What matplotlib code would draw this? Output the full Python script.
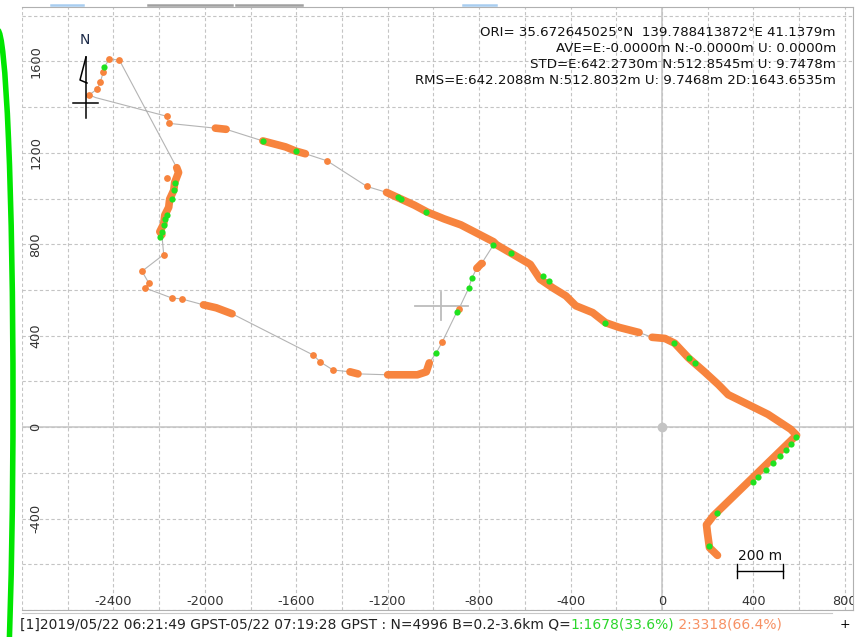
import numpy as np, matplotlib.pyplot as plt
from matplotlib.patches import Ellipse
from matplotlib.lines import Line2D

# track waypoints (E, N in metres from ORI)
track_e = [243, 208, 199, 195, 225, 589, 563, 464, 290, 247, 186, 117, 56, 13, -43, -100, -186, -247, -303, -377,
           -420, -477, -533, -576, -650, -724, -737, -880, -953, -1027, -1083, -1140, -1205, -1291, -1465, -1560, -1603, -1647, -1746, -1907,
           -1954, -2158, -2167, -2479, -2505, -2470, -2457, -2444, -2440, -2418, -2374, -2123, -2115, -2132, -2136, -2154, -2158, -2175, -2180, -2197,
           -2188, -2180, -2275, -2245, -2262, -2145, -2102, -2006, -1950, -1881, -1525, -1495, -1439, -1365, -1330, -1200, -1170, -1070, -1031, -1018,
           -988, -962, -897, -888, -845, -832, -810, -789, -750, -737, -737]
track_n = [-561, -527, -462, -427, -388, -35, -9, 56, 142, 186, 242, 302, 367, 388, 393, 414, 436, 457, 501, 531,
           574, 609, 647, 712, 755, 798, 811, 885, 911, 941, 971, 997, 1027, 1053, 1165, 1196, 1208, 1226, 1252, 1303,
           1308, 1329, 1360, 1442, 1454, 1480, 1511, 1554, 1575, 1610, 1606, 1135, 1114, 1070, 1036, 997, 962, 928, 889, 855,
           842, 755, 682, 630, 609, 565, 561, 535, 522, 496, 315, 285, 250, 242, 233, 229, 229, 229, 242, 281,
           324, 371, 505, 518, 609, 652, 695, 716, 777, 798, 811]
# dense float (Q=2) stretches as waypoint index ranges, and single float epochs
float_runs = [(0, 14), (15, 32), (35, 38), (39, 40), (51, 60), (67, 69), (73, 74), (75, 79), (86, 87)]
float_idx = [33, 34, 41, 42, 44, 45, 46, 47, 49, 50, 61, 62, 63, 64, 65, 66, 70, 71, 72, 81, 83, 86, 87]
float_extra_e, float_extra_n = [-2167], [1092]
# fix (Q=1) epochs
fix_e = [585, 563, 542, 516, 485, 455, 420, 399, 243, 208, 117, 143, 52, -247, -520, -494, -659, -737,
         -1031, -1140, -1157, -1603, -1746, -2440, -2132, -2136, -2145, -2167, -2175, -2180, -2188, -2197,
         -988, -897, -845, -832]
fix_n = [-43, -73, -99, -125, -155, -186, -220, -242, -375, -518, 302, 281, 367, 457, 660, 639, 760, 798,
         941, 997, 1006, 1208, 1252, 1575, 1070, 1036, 997, 928, 911, 885, 855, 833,
         324, 505, 609, 652]
xlabels = [-2400, -2000, -1600, -1200, -800, -400, 0, 400, 800]
ylabels = [-400, 0, 400, 800, 1200, 1600]
stats = ['ORI= 35.672645025\u00b0N  139.788413872\u00b0E 41.1379m',
         'AVE=E:-0.0000m N:-0.0000m U: 0.0000m',
         'STD=E:642.2730m N:512.8545m U: 9.7478m',
         'RMS=E:642.2088m N:512.8032m U: 9.7468m 2D:1643.6535m']
status = [('[1]2019/05/22 06:21:49 GPST-05/22 07:19:28 GPST : N=4996 B=0.2-3.6km Q=', '#222222'),
          ('1:1678(33.6%)', '#2bd62b'), (' 2:3318(66.4%)', '#f79063')]

ORANGE, GREEN, GRAY = '#f7843e', '#1fe21f', '#b4b4b4'
W, H = 856, 637
def fx(x): return x / W
def fy(y): return 1 - y / H

fig = plt.figure(figsize=(W / 100, H / 100), dpi=100)
ax = fig.add_axes([fx(22), fy(610), (853 - 22) / W, (610 - 7) / H])
ax.set_xlim(-2764, 836); ax.set_ylim(-764, 1838)
ax.set_xticks(np.arange(-2800, 801, 200)); ax.set_yticks(np.arange(-800, 1801, 200))
ax.tick_params(length=0, labelbottom=False, labelleft=False)
ax.grid(True, ls=(0, (3, 2.2)), color='#c4c4c4', lw=0.8)
ax.spines['left'].set_visible(False)
for s in ['top', 'right', 'bottom']: ax.spines[s].set_color('#b0b0b0')
ax.axhline(0, color='#c8c8c8', lw=1.2, zorder=1); ax.axvline(0, color='#c8c8c8', lw=1.2, zorder=1)
ax.plot(0, 0, 'o', color='#c4c4c4', ms=6, zorder=1)

te, tn = np.array(track_e), np.array(track_n)
ax.plot(te, tn, color=GRAY, lw=0.8, zorder=2)
for i0, i1 in float_runs:
    ax.plot(te[i0:i1 + 1], tn[i0:i1 + 1], color=ORANGE, lw=5.5, solid_capstyle='round', solid_joinstyle='round', zorder=3)
ax.scatter(np.r_[te[float_idx], float_extra_e], np.r_[tn[float_idx], float_extra_n], s=24, color=ORANGE, lw=0, zorder=3)
ax.scatter(fix_e, fix_n, s=20, color=GREEN, lw=0, zorder=4)

# crosshair, scale bar
ax.plot([-1080, -850], [531, 531], color='#bcbcbc', lw=1.3, zorder=2)
ax.plot([-966, -966], [468, 592], color='#bcbcbc', lw=1.3, zorder=2)
ax.plot([330, 530], [-630, -630], color='k', lw=1)
for xb in [330, 530]: ax.plot([xb, xb], [-600, -660], color='k', lw=1)
ax.text(430, -565, '200 m', ha='center', va='center', fontsize=10, color='#111111')

for v in xlabels:
    ax.text(v, 0.0133, str(v), transform=ax.get_xaxis_transform(), ha='center', va='center', fontsize=9.3, color='#333333', clip_on=True)
for v in ylabels:
    ax.text(0.0168, v, str(v), transform=ax.get_yaxis_transform(), ha='center', va='center', rotation=90, fontsize=9.3, color='#333333')

for i, s in enumerate(stats):
    fig.text(fx(836), fy(32 + 16.3 * i), s, ha='right', va='center', fontsize=9.6, color='#111111')

# north arrow and cursor
fig.text(fx(85), fy(40), 'N', ha='center', va='center', fontsize=10, color='#1c2a48')
fig.add_artist(Line2D([fx(86), fx(86)], [fy(57), fy(118)], color='k', lw=1.1))
fig.add_artist(Line2D([fx(86), fx(80), fx(87)], [fy(57), fy(80), fy(83)], color='k', lw=1.1))
fig.add_artist(Line2D([fx(73), fx(98)], [fy(103), fy(103)], color='k', lw=1.1))

# window decorations
fig.add_artist(Ellipse((fx(-2.5), fy(400)), 31 / W, 740 / H, fill=False, ec='#00e600', lw=4))
for x0, x1, c in [(51, 83, '#a8cdf0'), (148, 232, '#a0a0a0'), (236, 302, '#a0a0a0'), (463, 496, '#a8cdf0')]:
    fig.add_artist(Line2D([fx(x0), fx(x1)], [fy(4.5), fy(4.5)], color=c, lw=1.8))
fig.add_artist(Line2D([fx(22), fx(832)], [fy(613), fy(613)], color='#c8c8c8', lw=0.8))
fig.text(fx(845), fy(625), '+', ha='center', va='center', fontsize=9, color='k')

fig.canvas.draw(); r = fig.canvas.get_renderer()
x = 20
for s, c in status:
    t = fig.text(fx(x), fy(625), s, ha='left', va='center', fontsize=10, color=c)
    x = t.get_window_extent(renderer=r).x1

fig.savefig('out.png', dpi=100)
